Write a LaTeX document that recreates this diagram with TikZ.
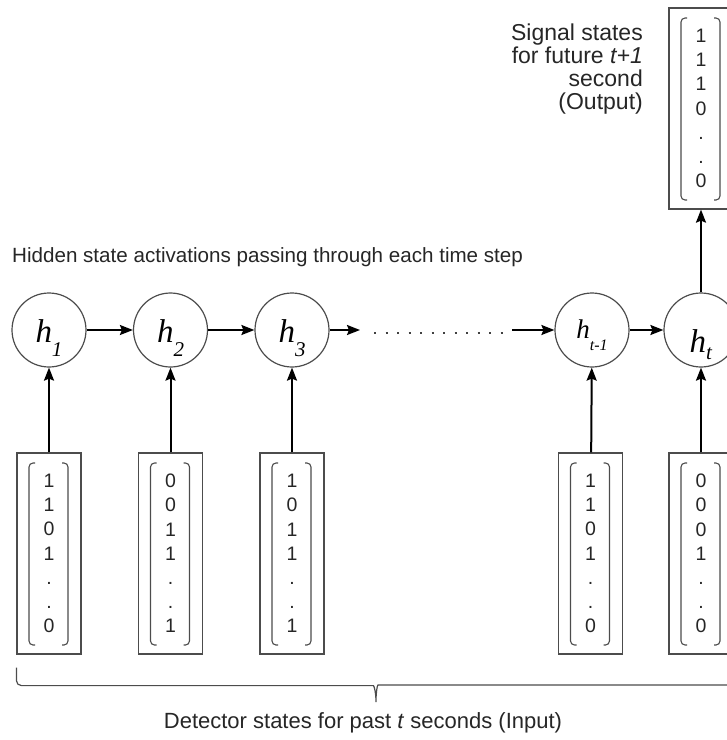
\documentclass[tikz,border=0pt]{standalone}
\usepackage{fontspec}
\setmainfont{Liberation Sans}
\newfontfamily\serifit{Liberation Serif}
\usepackage{tikz}
\usetikzlibrary{arrows.meta, positioning}
\tikzstyle{state} = [circle, draw=gray!60!black, line width=1.2pt, minimum size=74pt, inner sep=0pt]
\tikzstyle{vec} = [rectangle, draw=gray!60!black, line width=1.2pt, minimum width=64pt, minimum height=201pt, inner sep=0pt, align=center, text=black!85, font=\fontsize{19.5}{24.2}\selectfont,
  path picture={
    \draw[gray!60!black, line width=1.1pt, rounded corners=4pt] ([xshift=18pt,yshift=-10pt]path picture bounding box.north west) -- ++(-6pt,0) -- ([xshift=12pt,yshift=9pt]path picture bounding box.south west) -- ++(6pt,0);
    \draw[gray!60!black, line width=1.1pt, rounded corners=4pt] ([xshift=-19pt,yshift=-10pt]path picture bounding box.north east) -- ++(6pt,0) -- ([xshift=-13pt,yshift=9pt]path picture bounding box.south east) -- ++(-6pt,0);
  }]
\tikzstyle{arrow} = [line width=2pt, -{Stealth[length=13pt,width=10pt,inset=2pt]}]
\tikzstyle{brace} = [gray!60!black, line width=1.2pt, rounded corners=5pt]
\tikzstyle{caption} = [inner sep=0pt, text=black!85]
% h with a lowered subscript: size, subscript size, subscript, drop of h, drop of subscript
\newcommand{\hname}[5]{\raisebox{-#4pt}[0pt][0pt]{\serifit\fontsize{#1}{#1}\selectfont\textit{h}\raisebox{-#5pt}{\fontsize{#2}{#2}\selectfont\textit{#3}}}}

\begin{document}
\begin{tikzpicture}[x=1pt, y=-1pt, node distance=121.5pt]
    \useasboundingbox (0,0) rectangle (727,740);
    \clip (0,0) rectangle (727,740);
    % hidden states
    \node (h1) [state] at (49,330) {\hname{33}{21}{1}{12}{14}};
    \node (h2) [state, right of=h1] {\hname{33}{21}{2}{12}{14}};
    \node (h3) [state, right of=h2] {\hname{33}{21}{3}{12}{14}};
    \node (hm) [state] at (592,330) {\hname{27}{16}{t-1}{8}{12}};
    \node (ht) [state] at (701,330) {\hname{33}{21}{t}{22}{7}};
    \coordinate (gapL) at (360,330);
    \coordinate (gapR) at (512,330);
    % input vectors
    \node (x1) [vec] at (49,553.5) {1\\1\\0\\1\\.\\.\\0};
    \node (x2) [vec, right of=x1] {0\\0\\1\\1\\.\\.\\1};
    \node (x3) [vec, right of=x2] {1\\0\\1\\1\\.\\.\\1};
    \node (x4) [vec] at (590.5,553.5) {1\\1\\0\\1\\.\\.\\0};
    \node (x5) [vec] at (701,553.5) {0\\0\\0\\1\\.\\.\\0};
    % output vector
    \node (out) [vec] at (701,108.5) {1\\1\\1\\0\\.\\.\\0};
    % texts
    \node (hidtxt) [caption, anchor=west, font=\fontsize{20.6}{24}\selectfont] at (12,257) {Hidden state activations passing through each time step};
    \node (outtxt) [caption, anchor=east, align=right, font=\fontsize{23}{23}\selectfont] at (643,69) {Signal states\\for future \textit{t+1}\\second\\(Output)};
    \coordinate (tip) at (376,705);
    \node (intxt) [caption, font=\fontsize{22}{26}\selectfont] at (363,723) {Detector states for past \textit{t} seconds (Input)};
    % connectors
    \draw [arrow] (h1) -- (h2);
    \draw [arrow] (h2) -- (h3);
    \draw [arrow] (h3) -- (gapL);
    \draw [line width=2pt, dash pattern=on 2pt off 9.5pt, black!75] ([xshift=14pt,yshift=-3pt]gapL) -- ([xshift=-7pt,yshift=-3pt]gapR);
    \draw [arrow] (gapR) -- (hm);
    \draw [arrow] (hm) -- (ht);
    \draw [arrow] (x1) -- (h1);
    \draw [arrow] (x2) -- (h2);
    \draw [arrow] (x3) -- (h3);
    \draw [arrow] (x4) -- (hm);
    \draw [arrow] (x5) -- (ht);
    \draw [arrow] (ht) -- (out);
    % brace under the inputs
    \draw [brace] ([yshift=-13pt]x1.south west) -- ([yshift=-31pt]x1.south west) -- ++(352pt,0) .. controls +(6pt,0) and +(0,10pt) .. (tip) .. controls +(0,10pt) and +(-6pt,0) .. ++(7pt,20pt) -- ++(400pt,0);
\end{tikzpicture}
\end{document}
